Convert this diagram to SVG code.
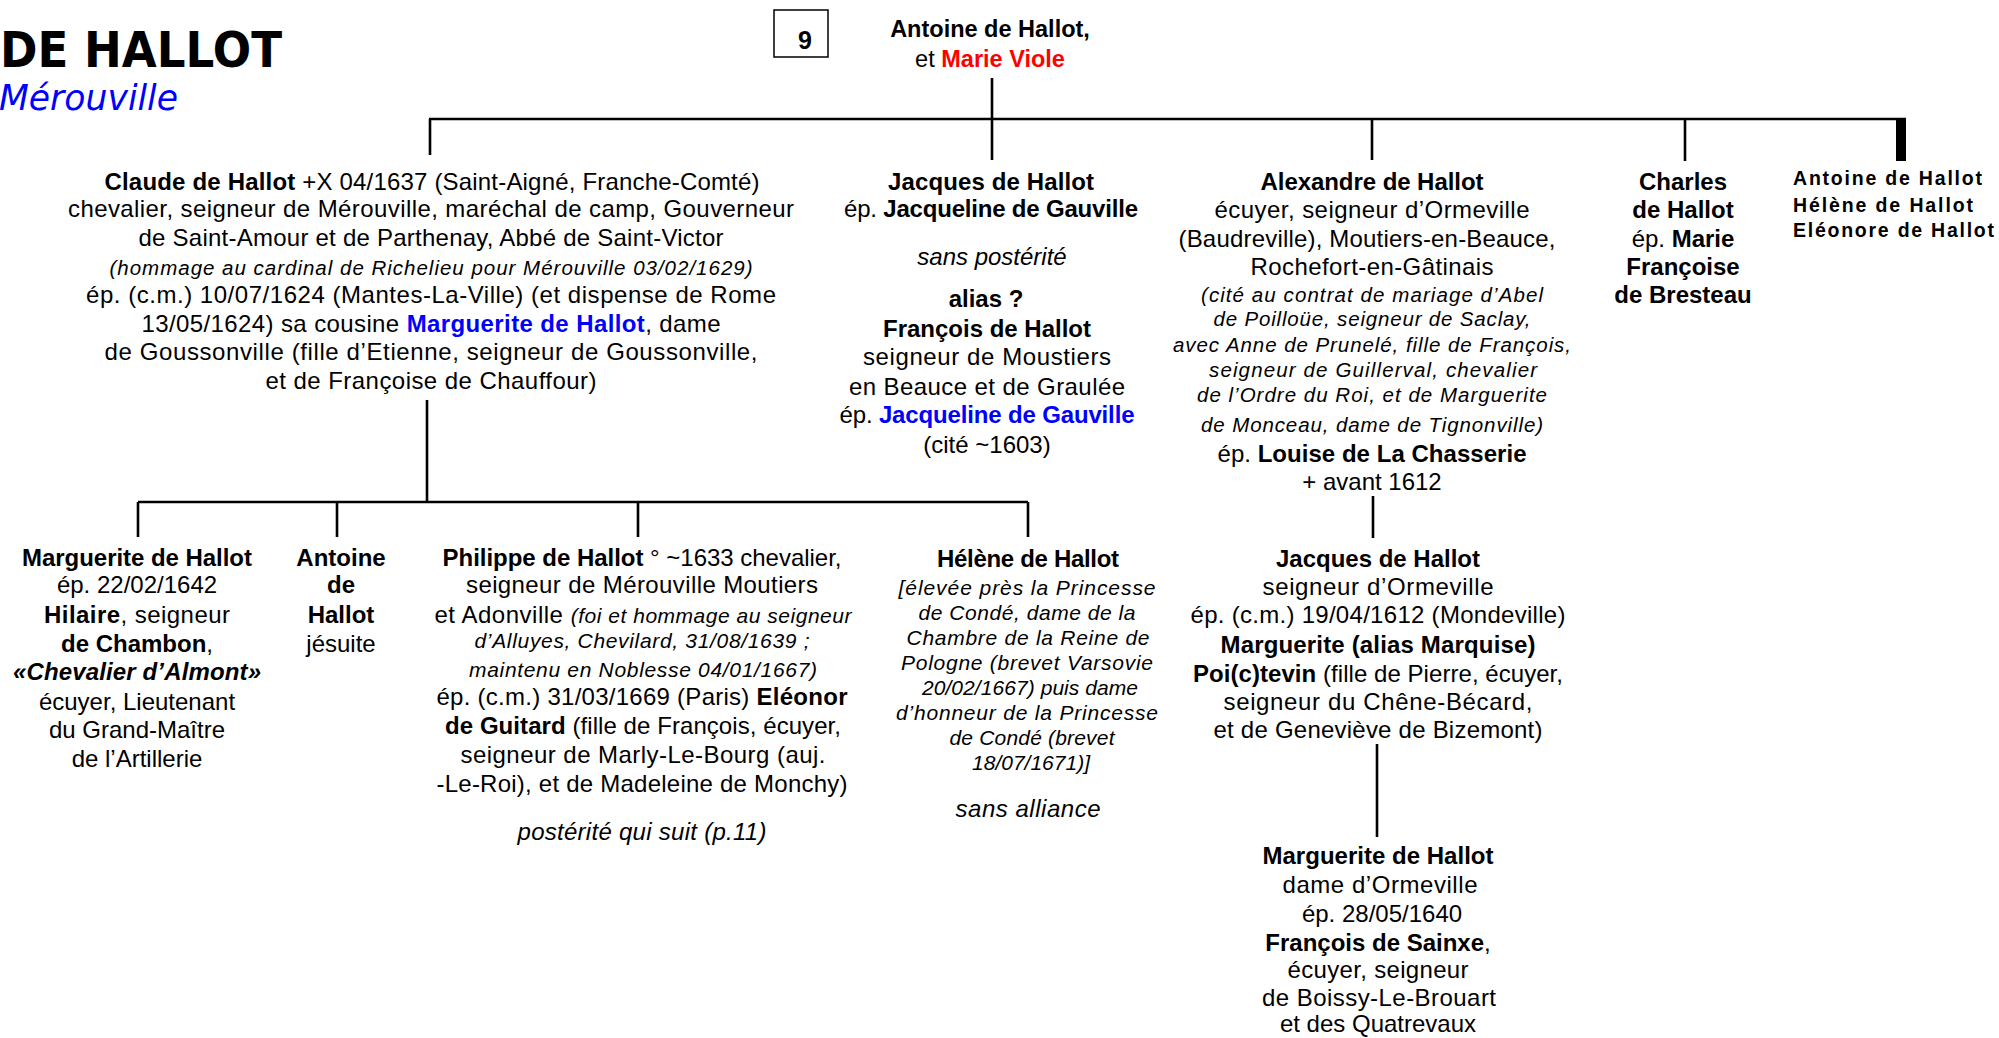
<svg xmlns="http://www.w3.org/2000/svg" width="1999" height="1038" viewBox="0 0 1999 1038">
<style>
text{font-family:"Liberation Sans",Arial,sans-serif;font-size:24px;fill:#000;text-anchor:middle}
.b{font-weight:bold}
.i{font-style:italic}
.s{font-size:20.5px}
.h{font-size:21px}
.blue{fill:#0000ff}
.red{fill:#ff0000}
.l{text-anchor:start}
.ln{stroke:#000;stroke-width:2.6;fill:none}
</style>
<rect width="1999" height="1038" fill="#fff"/>
<g id="title">
<text x="0" y="67" class="l b" style="font-family:'DejaVu Sans',sans-serif;font-size:50px" textLength="282" lengthAdjust="spacingAndGlyphs">DE HALLOT</text>
<text x="-1" y="110" class="l i blue" style="font-family:'DejaVu Sans',sans-serif;font-size:35px" textLength="179" lengthAdjust="spacingAndGlyphs">Mérouville</text>
</g>
<g id="page-number">
<rect x="774" y="10" width="54" height="47" fill="none" stroke="#000" stroke-width="1.5"/>
<text x="805" y="49" class="b" style="font-size:25px">9</text>
</g>
<g id="connectors">
<path class="ln" d="M992 78V119M429 119H1906M430 119V155M992 119V160M1372 119V160M1685 119V161"/>
<rect x="1896" y="119" width="10" height="42" fill="#000"/>
<path class="ln" d="M427 400V502M138 502H1028M138 502V537M337 502V537M638 502V537M1028 502V537"/>
<path class="ln" d="M1373 496V538M1377 744V837"/>
</g>
<g id="parents">
<text x="990" y="37" class="b" style="font-size:23.5px">Antoine de Hallot,</text>
<text x="990" y="67" style="font-size:23.5px">et <tspan class="b red">Marie Viole</tspan></text>
</g>
<g id="claude">
<text x="432" y="190" textLength="655"><tspan class="b">Claude de Hallot</tspan> +X 04/1637 (Saint-Aigné, Franche-Comté)</text>
<text x="431" y="217" textLength="726">chevalier, seigneur de Mérouville, maréchal de camp, Gouverneur</text>
<text x="431" y="246" textLength="585">de Saint-Amour et de Parthenay, Abbé de Saint-Victor</text>
<text x="431" y="275" class="i s" textLength="643">(hommage au cardinal de Richelieu pour Mérouville 03/02/1629)</text>
<text x="431" y="303" textLength="690">ép. (c.m.) 10/07/1624 (Mantes-La-Ville) (et dispense de Rome</text>
<text x="431" y="332" textLength="579">13/05/1624) sa cousine <tspan class="b blue">Marguerite de Hallot</tspan>, dame</text>
<text x="431" y="360" textLength="653">de Goussonville (fille d’Etienne, seigneur de Goussonville,</text>
<text x="431" y="389" textLength="331">et de Françoise de Chauffour)</text>
</g>
<g id="jacques">
<text x="991" y="190" class="b" textLength="206">Jacques de Hallot</text>
<text x="991" y="217" textLength="294">ép. <tspan class="b">Jacqueline de Gauville</tspan></text>
<text x="992" y="265" class="i">sans postérité</text>
<text x="986" y="307" class="b">alias ?</text>
<text x="987" y="337" class="b">François de Hallot</text>
<text x="987" y="365" textLength="248">seigneur de Moustiers</text>
<text x="987" y="395" textLength="276">en Beauce et de Graulée</text>
<text x="987" y="423" textLength="295">ép. <tspan class="b blue">Jacqueline de Gauville</tspan></text>
<text x="987" y="453">(cité ~1603)</text>
</g>
<g id="alexandre">
<text x="1372" y="190" class="b" textLength="223">Alexandre de Hallot</text>
<text x="1372" y="218" textLength="315">écuyer, seigneur d’Ormeville</text>
<text x="1367" y="247" textLength="377">(Baudreville), Moutiers-en-Beauce,</text>
<text x="1372" y="275" textLength="243">Rochefort-en-Gâtinais</text>
<text x="1372" y="302" class="i s" textLength="342">(cité au contrat de mariage d’Abel</text>
<text x="1372" y="326" class="i s" textLength="317">de Poilloüe, seigneur de Saclay,</text>
<text x="1372" y="352" class="i s" textLength="398">avec Anne de Prunelé, fille de François,</text>
<text x="1373" y="377" class="i s" textLength="328">seigneur de Guillerval, chevalier</text>
<text x="1372" y="402" class="i s" textLength="350">de l’Ordre du Roi, et de Marguerite</text>
<text x="1372" y="432" class="i s" textLength="342">de Monceau, dame de Tignonville)</text>
<text x="1372" y="462" textLength="309">ép. <tspan class="b">Louise de La Chasserie</tspan></text>
<text x="1372" y="490">+ avant 1612</text>
</g>
<g id="charles">
<text x="1683" y="190" class="b">Charles</text>
<text x="1683" y="218" class="b">de Hallot</text>
<text x="1683" y="247">ép. <tspan class="b">Marie</tspan></text>
<text x="1683" y="275" class="b">Françoise</text>
<text x="1683" y="303" class="b">de Bresteau</text>
</g>
<g id="antoine-helene-eleonore">
<text x="1793" y="185" class="l b" style="font-size:19.5px" textLength="189">Antoine de Hallot</text>
<text x="1793" y="212" class="l b" style="font-size:19.5px" textLength="180">Hélène de Hallot</text>
<text x="1793" y="237" class="l b" style="font-size:19.5px" textLength="201">Eléonore de Hallot</text>
</g>
<g id="marguerite-chambon">
<text x="137" y="566" class="b" textLength="230">Marguerite de Hallot</text>
<text x="137" y="593">ép. 22/02/1642</text>
<text x="137" y="623" textLength="186"><tspan class="b">Hilaire</tspan>, seigneur</text>
<text x="137" y="652"><tspan class="b">de Chambon</tspan>,</text>
<text x="137" y="680" class="b i" textLength="248">«Chevalier d’Almont»</text>
<text x="137" y="710">écuyer, Lieutenant</text>
<text x="137" y="738">du Grand-Maître</text>
<text x="137" y="767">de l’Artillerie</text>
</g>
<g id="antoine-jesuite">
<text x="341" y="566" class="b">Antoine</text>
<text x="341" y="593" class="b">de</text>
<text x="341" y="623" class="b">Hallot</text>
<text x="341" y="652">jésuite</text>
</g>
<g id="philippe">
<text x="642" y="566" textLength="399"><tspan class="b">Philippe de Hallot</tspan> ° ~1633 chevalier,</text>
<text x="642" y="593" textLength="352">seigneur de Mérouville Moutiers</text>
<text x="643" y="623" textLength="417">et Adonville <tspan class="i h">(foi et hommage au seigneur</tspan></text>
<text x="642" y="648" class="i h" textLength="335">d’Alluyes, Chevilard, 31/08/1639 ;</text>
<text x="643" y="677" class="i h" textLength="348">maintenu en Noblesse 04/01/1667)</text>
<text x="642" y="705" textLength="411">ép. (c.m.) 31/03/1669 (Paris) <tspan class="b">Eléonor</tspan></text>
<text x="643" y="734" textLength="396"><tspan class="b">de Guitard</tspan> (fille de François, écuyer,</text>
<text x="643" y="763" textLength="365">seigneur de Marly-Le-Bourg (auj.</text>
<text x="642" y="792" textLength="411">-Le-Roi), et de Madeleine de Monchy)</text>
<text x="642" y="840" class="i" textLength="249">postérité qui suit (p.11)</text>
</g>
<g id="helene">
<text x="1028" y="567" class="b" textLength="182">Hélène de Hallot</text>
<text x="1027" y="595" class="i h" textLength="257">[élevée près la Princesse</text>
<text x="1027" y="620" class="i h" textLength="217">de Condé, dame de la</text>
<text x="1028" y="645" class="i h" textLength="243">Chambre de la Reine de</text>
<text x="1027" y="670" class="i h" textLength="252">Pologne (brevet Varsovie</text>
<text x="1030" y="695" class="i h" textLength="216">20/02/1667) puis dame</text>
<text x="1027" y="720" class="i h" textLength="262">d’honneur de la Princesse</text>
<text x="1032" y="745" class="i h" textLength="165">de Condé (brevet</text>
<text x="1031" y="770" class="i h">18/07/1671)]</text>
<text x="1028" y="817" class="i" textLength="145">sans alliance</text>
</g>
<g id="jacques-ormeville">
<text x="1378" y="567" class="b">Jacques de Hallot</text>
<text x="1378" y="595" textLength="231">seigneur d’Ormeville</text>
<text x="1378" y="623" textLength="375">ép. (c.m.) 19/04/1612 (Mondeville)</text>
<text x="1378" y="653" class="b" textLength="315">Marguerite (alias Marquise)</text>
<text x="1378" y="682" textLength="370"><tspan class="b">Poi(c)tevin</tspan> (fille de Pierre, écuyer,</text>
<text x="1378" y="710" textLength="309">seigneur du Chêne-Bécard,</text>
<text x="1378" y="738" textLength="329">et de Geneviève de Bizemont)</text>
</g>
<g id="marguerite-ormeville">
<text x="1378" y="864" class="b" textLength="231">Marguerite de Hallot</text>
<text x="1380" y="893" textLength="195">dame d’Ormeville</text>
<text x="1382" y="922">ép. 28/05/1640</text>
<text x="1378" y="951"><tspan class="b">François de Sainxe</tspan>,</text>
<text x="1378" y="978" textLength="181">écuyer, seigneur</text>
<text x="1379" y="1006" textLength="234">de Boissy-Le-Brouart</text>
<text x="1378" y="1032">et des Quatrevaux</text>
</g>
</svg>
